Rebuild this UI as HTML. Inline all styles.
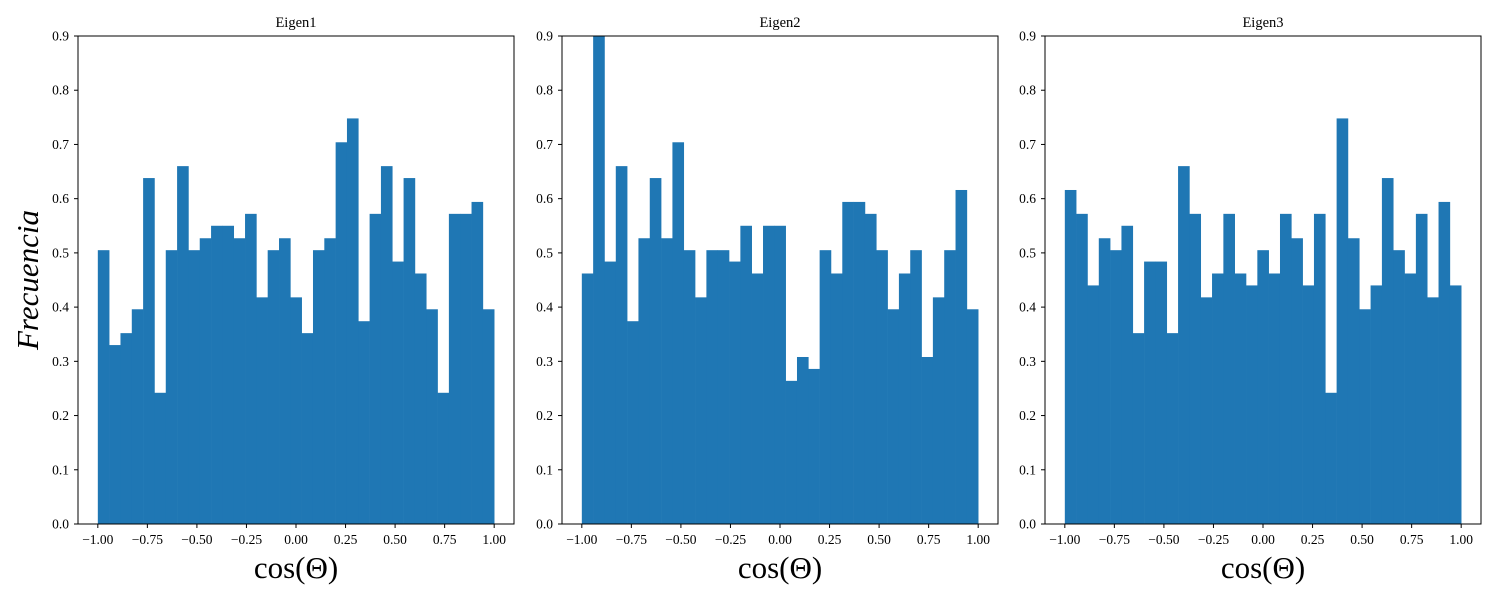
<!DOCTYPE html>
<html><head><meta charset="utf-8"><style>
body{margin:0;background:#fff}
svg{display:block;font-family:"Liberation Serif","DejaVu Serif",serif}
</style></head><body>
<svg id="chart" width="1500" height="600" viewBox="0 0 1500 600" xmlns="http://www.w3.org/2000/svg">
<text x="0" y="0" transform="translate(38,280) rotate(-90)" text-anchor="middle" font-size="31" font-style="italic">Frecuencia</text>
</svg>
<script>
const titles = ["Eigen1","Eigen2","Eigen3"];
const eigen1 = [0.505,0.33,0.352,0.396,0.638,0.242,0.505,0.66,0.505,0.527,0.55,0.55,0.527,0.572,0.418,0.505,0.527,0.418,0.352,0.505,0.527,0.704,0.748,0.374,0.572,0.66,0.484,0.638,0.462,0.396,0.242,0.572,0.572,0.594,0.396];
const eigen2 = [0.462,0.902,0.484,0.66,0.374,0.527,0.638,0.527,0.704,0.505,0.418,0.505,0.505,0.484,0.55,0.462,0.55,0.55,0.264,0.308,0.286,0.505,0.462,0.594,0.594,0.572,0.505,0.396,0.462,0.505,0.308,0.418,0.505,0.616,0.396];
const eigen3 = [0.616,0.572,0.44,0.527,0.505,0.55,0.352,0.484,0.484,0.352,0.66,0.572,0.418,0.462,0.572,0.462,0.44,0.505,0.462,0.572,0.527,0.44,0.572,0.242,0.748,0.527,0.396,0.44,0.638,0.505,0.462,0.572,0.418,0.594,0.44];
const xTicks = [-1.0,-0.75,-0.5,-0.25,0,0.25,0.5,0.75,1.0];
const xTickLabels = ["\u22121.00","\u22120.75","\u22120.50","\u22120.25","0.00","0.25","0.50","0.75","1.00"];
const yTicks = [0,0.1,0.2,0.3,0.4,0.5,0.6,0.7,0.8,0.9];
const yTickLabels = ["0.0","0.1","0.2","0.3","0.4","0.5","0.6","0.7","0.8","0.9"];
const series = [eigen1, eigen2, eigen3];

const svg = document.getElementById('chart');
const NS = 'http://www.w3.org/2000/svg';
const lefts = [78, 562, 1045], W = 436, top0 = 36, bot = 524;
function mk(tag, attrs, parent){const e=document.createElementNS(NS,tag);for(const k in attrs)e.setAttribute(k,attrs[k]);parent.appendChild(e);return e;}

series.forEach((vals, p) => {
  const L = lefts[p];
  const xs = v => L + (v + 1.1) / 2.2 * W;
  const ys = v => bot - v / 0.9 * (bot - top0);
  const g = mk('g', {}, svg);
  
  
  const clipId = 'clip' + p;
  const cp = mk('clipPath', {id: clipId}, g);
  mk('rect', {x: L, y: top0, width: W, height: bot - top0}, cp);
  const bars = mk('g', {'clip-path': 'url(#' + clipId + ')'}, g);
  const n = vals.length, bw = 2 / n;
  vals.forEach((v, i) => {
    const x0 = xs(-1 + i * bw), x1 = xs(-1 + (i + 1) * bw);
    const r = mk('rect', {x: x0, y: ys(v), width: x1 - x0 + 0.3, height: bot - ys(v), fill: '#1f77b4'}, bars);
    
    
  });
  const frame = mk('rect', {x: L, y: top0, width: W, height: bot - top0, fill: 'none', stroke: '#000', 'stroke-width': 1}, g);
  
  
  xTicks.forEach((t, i) => {
    const x = xs(t);
    mk('line', {x1: x, x2: x, y1: bot, y2: bot + 4, stroke: '#000'}, g);
    const tx = mk('text', {x: x, y: bot + 20, 'text-anchor': 'middle', 'font-size': 13.5}, g);
    tx.textContent = xTickLabels[i];
    
    
  });
  yTicks.forEach((t, i) => {
    const y = ys(t);
    mk('line', {x1: L - 4, x2: L, y1: y, y2: y, stroke: '#000'}, g);
    const tx = mk('text', {x: L - 9, y: y + 4.5, 'text-anchor': 'end', 'font-size': 13.5}, g);
    tx.textContent = yTickLabels[i];
    
    
  });
  const tt = mk('text', {x: L + W / 2, y: 27, 'text-anchor': 'middle', 'font-size': 14.5}, g);
  tt.textContent = titles[p];
  
  
  const xl = mk('text', {x: L + W / 2, y: 578, 'text-anchor': 'middle', 'font-size': 31}, g);
  xl.textContent = 'cos(\u0398)';
  
  
});
</script>
</body></html>
